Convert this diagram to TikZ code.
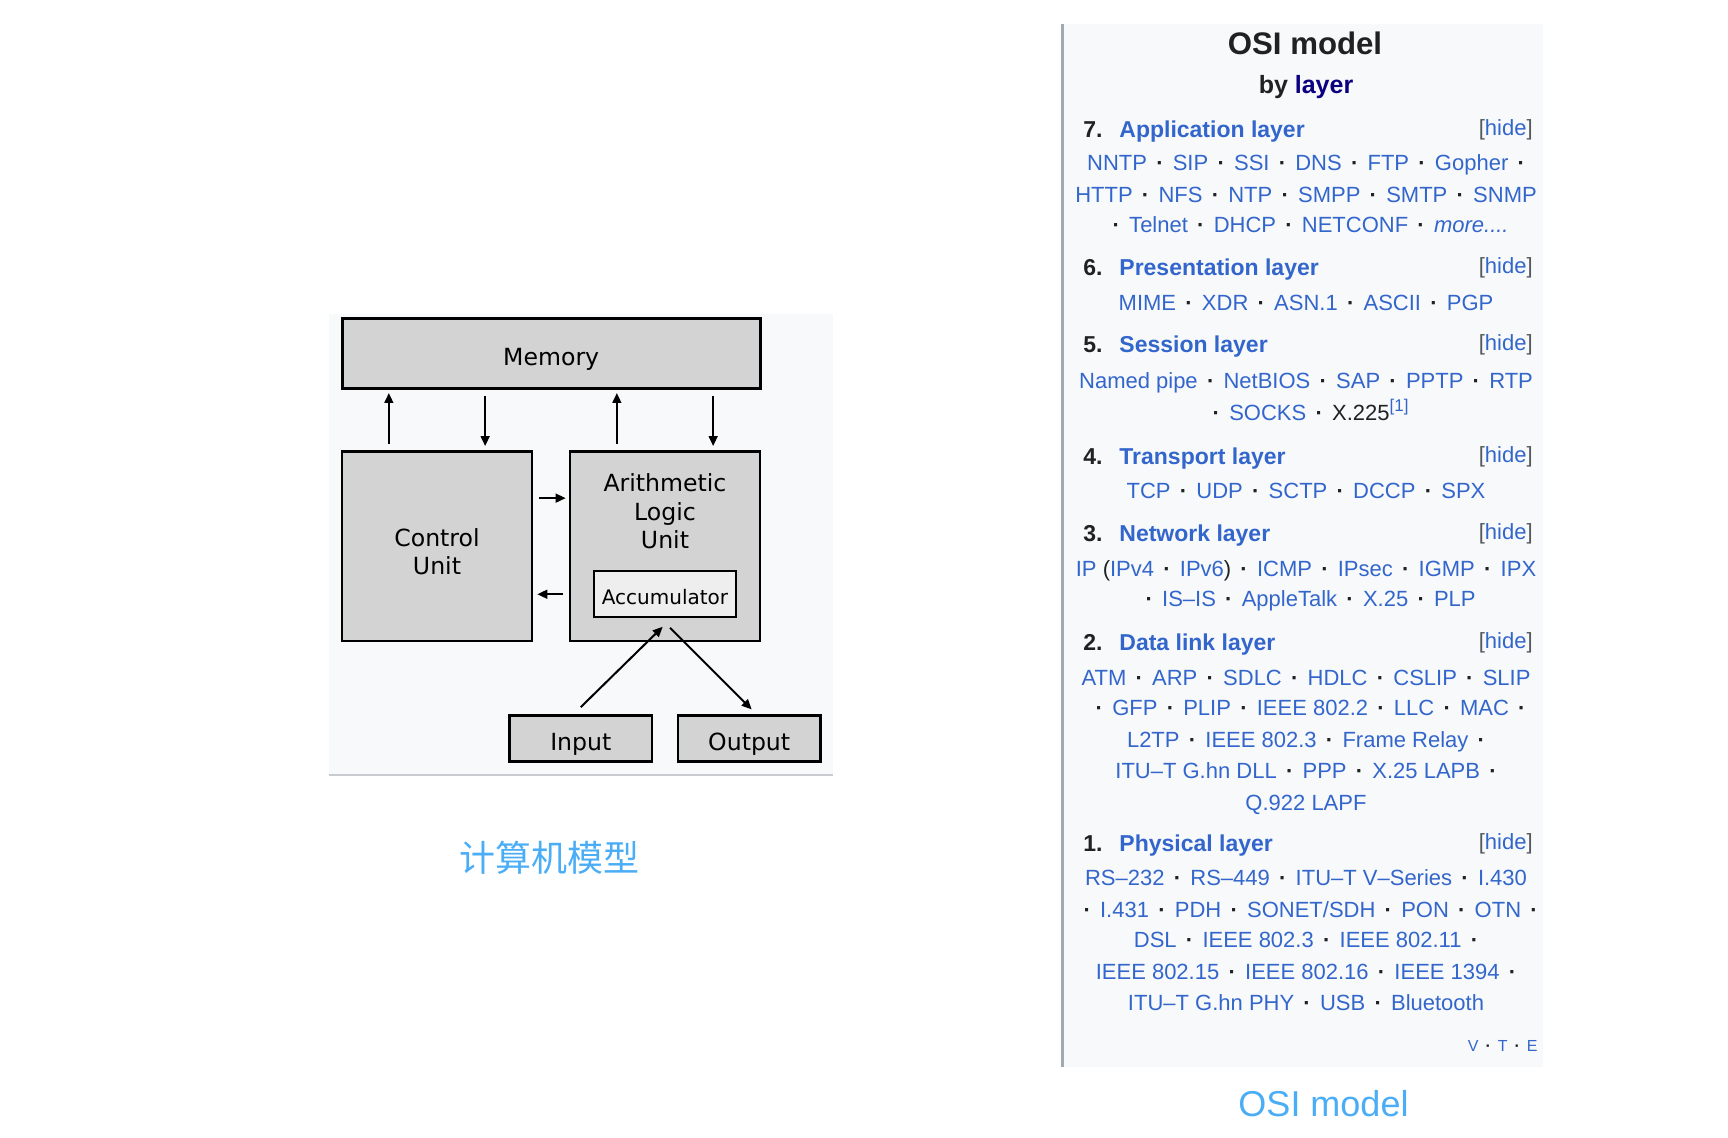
\documentclass[tikz,border=0pt]{standalone}
\usepackage{fontspec}
\setmainfont{Liberation Sans}
\newfontfamily\dejavu{DejaVu Sans}
\newfontfamily\cjk{Noto Sans CJK SC}
\usetikzlibrary{arrows.meta,calc,positioning}
\definecolor{lnk}{HTML}{3366CC}
\definecolor{vis}{HTML}{0B0080}
\definecolor{ink}{HTML}{202122}
\definecolor{brk}{HTML}{54595D}
\definecolor{boxgray}{HTML}{D3D3D3}
\definecolor{accgray}{HTML}{EEEEEE}
\definecolor{panel}{HTML}{F8F9FA}
\definecolor{rulegray}{HTML}{A2A9B1}
\definecolor{sepgray}{HTML}{C8CCD1}
\definecolor{capblue}{HTML}{4AADF5}
\newcommand\lk[1]{\textcolor{lnk}{#1}}
\newcommand\sepdot{\hspace{0.42em}\textbf{·}\hspace{0.42em}}

\begin{document}
\begin{tikzpicture}[x=0.5pt,y=-0.5pt,
  box/.style={draw,line width=1.3pt,fill=boxgray,inner sep=0pt,align=center,
    text depth=0pt,text height=12pt,font=\dejavu\fontsize{11.8}{14.2}\selectfont},
  boxtxt/.style={align=center,inner sep=0pt,font=\dejavu\fontsize{11.8}{14.2}\selectfont},
  arr/.style={-{Triangle[length=5pt,width=4.4pt]},line width=1pt},
  line/.style={anchor=base,inner sep=0pt,text=ink,font=\fontsize{11}{13}\selectfont},
  num/.style={anchor=base east,inner sep=0pt,text=ink,font=\bfseries\fontsize{11.5}{13}\selectfont},
  head/.style={anchor=base west,inner sep=0pt,text=lnk,font=\bfseries\fontsize{11.5}{13}\selectfont},
  hidebtn/.style={anchor=base east,inner sep=0pt,text=brk,font=\fontsize{11}{13}\selectfont},
  capt/.style={anchor=base,inner sep=0pt,text=capblue}]
  \useasboundingbox (0,0) rectangle (1728,1138);

  % computer model
  \fill[panel] (329,314) rectangle (833,775);
  \draw[sepgray,line width=1pt] (329,775) -- (833,775);
  \node[box,minimum width=209pt,minimum height=35pt] (mem) at (551.2,353.7) {Memory};
  \node[box,minimum width=95pt,minimum height=94.8pt] (cu) at (437,546.2) {};
  \node[boxtxt] (cutxt) at (437,552) {Control\\Unit};
  \node[box,minimum width=95pt,minimum height=94.8pt] (alu) at (665,546.2) {};
  \node[boxtxt] (alutxt) at (665,511.5) {Arithmetic\\Logic\\Unit};
  \node[box,fill=accgray,line width=1pt,minimum width=71.3pt,minimum height=23.2pt,
    text height=9.8pt,font=\dejavu\fontsize{10}{12}\selectfont] (acc) at (665,594.2) {Accumulator};
  \node[box,minimum width=71.2pt,minimum height=23pt] (inp) at (580.8,738.4) {Input};
  \node[box,minimum width=71.2pt,minimum height=23pt] (out) at (749.2,738.4) {Output};

  \coordinate (cuL) at ($(cu.north west)!0.25!(cu.north east)$);
  \coordinate (cuR) at ($(cu.north west)!0.75!(cu.north east)$);
  \coordinate (aluL) at ($(alu.north west)!0.25!(alu.north east)$);
  \coordinate (aluR) at ($(alu.north west)!0.75!(alu.north east)$);
  \coordinate (cuU) at ($(cu.north east)!0.25!(cu.south east)$);
  \coordinate (cuD) at ($(cu.north east)!0.75!(cu.south east)$);
  \draw[arr,shorten <=3pt,shorten >=1.5pt] (cuL) -- (cuL |- mem.south);
  \draw[arr,shorten <=3pt,shorten >=2pt] (cuR |- mem.south) -- (cuR);
  \draw[arr,shorten <=3pt,shorten >=1.5pt] (aluL) -- (aluL |- mem.south);
  \draw[arr,shorten <=3pt,shorten >=2pt] (aluR |- mem.south) -- (aluR);
  \draw[arr,shorten <=3pt,shorten >=1.5pt] (cuU) -- (cuU -| alu.west);
  \draw[arr,shorten <=3pt,shorten >=2pt] (cuD -| alu.west) -- (cuD);
  \draw[arr] ([yshift=3.5pt]inp.north) -- ([xshift=-1.15pt,yshift=-4.2pt]acc.south);
  \draw[arr] ([xshift=2.5pt,yshift=-4.7pt]acc.south) -- ([xshift=1.25pt,yshift=2.35pt]out.north);
  \node[capt,font=\cjk\fontsize{18}{20}\selectfont] (cncap) at (549,871) {计算机模型};

  % OSI model box
  \fill[panel] (1063,24) rectangle (1543,1067);
  \draw[rulegray,line width=1.2pt] (1062.5,24) -- (1062.5,1067);
  \node[anchor=base,inner sep=0pt,text=ink,font=\bfseries\fontsize{15.6}{18}\selectfont] (osi) at (1305,55) {OSI model};
  \node[anchor=base,inner sep=0pt,text=ink,font=\bfseries\fontsize{12.5}{15}\selectfont] (by) at (1306,94) {by \textcolor{vis}{layer}};
  \foreach \n/\t/\y in {7/Application layer/138,6/Presentation layer/276,5/Session layer/353,
      4/Transport layer/465,3/Network layer/541,2/Data link layer/650,1/Physical layer/851}{
    \node[num] (num\n) at (1103,\y) {\n.};
    \node[head] (head\n) at (1119,\y) {\t};
    \node[hidebtn] (hide\n) at (1533,\y-2) {[\lk{hide}]};
  }
  \node[line] (l7a) at (1306,171) {\lk{NNTP}\sepdot\lk{SIP}\sepdot\lk{SSI}\sepdot\lk{DNS}\sepdot\lk{FTP}\sepdot\lk{Gopher}\sepdot};
  \node[line] (l7b) at (1306,203) {\lk{HTTP}\sepdot\lk{NFS}\sepdot\lk{NTP}\sepdot\lk{SMPP}\sepdot\lk{SMTP}\sepdot\lk{SNMP}};
  \node[line] (l7c) at (1306,233) {\sepdot\lk{Telnet}\sepdot\lk{DHCP}\sepdot\lk{NETCONF}\sepdot\lk{\textit{more....}}};
  \node[line] (l6a) at (1306,311) {\lk{MIME}\sepdot\lk{XDR}\sepdot\lk{ASN.1}\sepdot\lk{ASCII}\sepdot\lk{PGP}};
  \node[line] (l5a) at (1306,389) {\lk{Named pipe}\sepdot\lk{NetBIOS}\sepdot\lk{SAP}\sepdot\lk{PPTP}\sepdot\lk{RTP}};
  \node[line] (l5b) at (1306,421) {\sepdot\lk{SOCKS}\sepdot X.225\raisebox{0.45em}{\fontsize{8.5}{9}\selectfont\lk{[1]}}};
  \node[line] (l4a) at (1306,499) {\lk{TCP}\sepdot\lk{UDP}\sepdot\lk{SCTP}\sepdot\lk{DCCP}\sepdot\lk{SPX}};
  \node[line] (l3a) at (1306,576) {\lk{IP} (\lk{IPv4}\sepdot\lk{IPv6})\sepdot\lk{ICMP}\sepdot\lk{IPsec}\sepdot\lk{IGMP}\sepdot\lk{IPX}};
  \node[line] (l3b) at (1306,606) {\sepdot\lk{IS–IS}\sepdot\lk{AppleTalk}\sepdot\lk{X.25}\sepdot\lk{PLP}};
  \node[line] (l2a) at (1306,685) {\lk{ATM}\sepdot\lk{ARP}\sepdot\lk{SDLC}\sepdot\lk{HDLC}\sepdot\lk{CSLIP}\sepdot\lk{SLIP}};
  \node[line] (l2b) at (1306,715) {\sepdot\lk{GFP}\sepdot\lk{PLIP}\sepdot\lk{IEEE 802.2}\sepdot\lk{LLC}\sepdot\lk{MAC}\sepdot};
  \node[line] (l2c) at (1306,747) {\lk{L2TP}\sepdot\lk{IEEE 802.3}\sepdot\lk{Frame Relay}\sepdot};
  \node[line] (l2d) at (1306,778) {\lk{ITU–T G.hn DLL}\sepdot\lk{PPP}\sepdot\lk{X.25 LAPB}\sepdot};
  \node[line] (l2e) at (1306,810) {\lk{Q.922 LAPF}};
  \node[line] (l1a) at (1306,885) {\lk{RS–232}\sepdot\lk{RS–449}\sepdot\lk{ITU–T V–Series}\sepdot\lk{I.430}};
  \node[line] (l1b) at (1306,917) {\sepdot\lk{I.431}\sepdot\lk{PDH}\sepdot\lk{SONET/SDH}\sepdot\lk{PON}\sepdot\lk{OTN}\sepdot};
  \node[line] (l1c) at (1306,947) {\lk{DSL}\sepdot\lk{IEEE 802.3}\sepdot\lk{IEEE 802.11}\sepdot};
  \node[line] (l1d) at (1306,979) {\lk{IEEE 802.15}\sepdot\lk{IEEE 802.16}\sepdot\lk{IEEE 1394}\sepdot};
  \node[line] (l1e) at (1306,1010) {\lk{ITU–T G.hn PHY}\sepdot\lk{USB}\sepdot\lk{Bluetooth}};
  \node[anchor=base east,inner sep=0pt,text=ink,font=\fontsize{8}{9}\selectfont] (vte) at (1538,1051)
    {\lk{V}\hspace{3.5pt}\textbf{·}\hspace{3.5pt}\lk{T}\hspace{3.5pt}\textbf{·}\hspace{3.5pt}\lk{E}};
  \node[capt,font=\fontsize{18}{20}\selectfont] (osicap) at (1323.5,1116.7) {OSI model};
\end{tikzpicture}
\end{document}
